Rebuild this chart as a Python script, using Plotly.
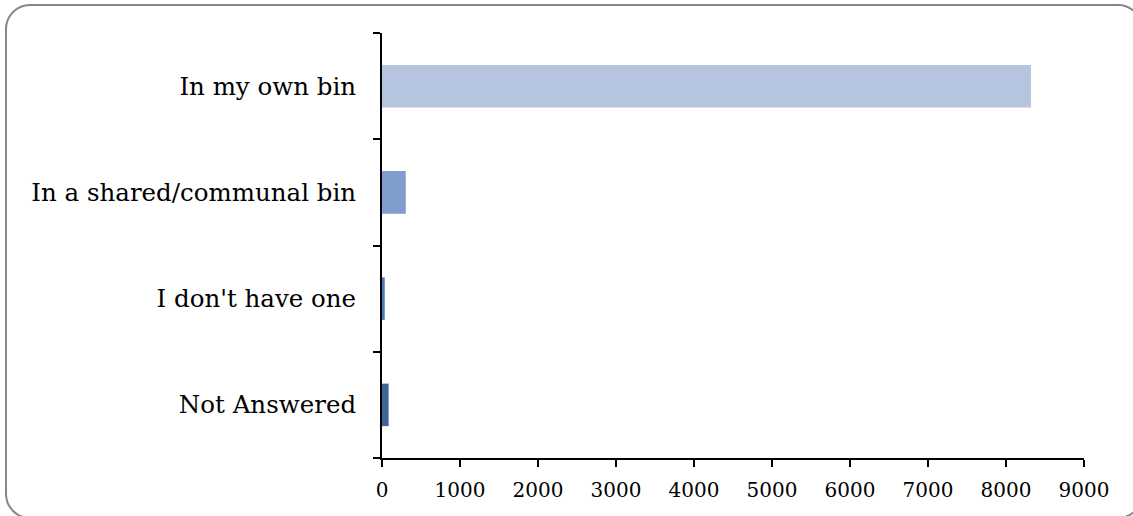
import plotly.graph_objects as go

categories = ["In my own bin", "In a shared/communal bin", "I don't have one", "Not Answered"]
values = [8320, 305, 35, 85]
colors = ["#b5c4df", "#7f9ecb", "#4a78b8", "#3b6497"]
x_ticks = [0, 1000, 2000, 3000, 4000, 5000, 6000, 7000, 8000, 9000]

W, H = 1133, 516
L, R, T, B = 382, 1084, 33, 458

fig = go.Figure(go.Bar(
    y=categories, x=values, orientation="h",
    marker=dict(color=colors, line=dict(width=0)),
    width=0.4,
))

def px(x):
    return (x - L) / (R - L)

def py(y):
    return (B - y) / (B - T)

# rounded border
x0, y0, x1, y1, r = 6, 5, 1142, 518, 24
k = 0.45
path = (
    f"M {px(x0 + r)} {py(y0)} L {px(x1 - r)} {py(y0)} "
    f"C {px(x1 - r + r*(1-k))} {py(y0)} {px(x1)} {py(y0 + r*k)} {px(x1)} {py(y0 + r)} "
    f"L {px(x1)} {py(y1 - r)} "
    f"C {px(x1)} {py(y1 - r*k)} {px(x1 - r*k)} {py(y1)} {px(x1 - r)} {py(y1)} "
    f"L {px(x0 + r)} {py(y1)} "
    f"C {px(x0 + r*k)} {py(y1)} {px(x0)} {py(y1 - r*k)} {px(x0)} {py(y1 - r)} "
    f"L {px(x0)} {py(y0 + r)} "
    f"C {px(x0)} {py(y0 + r*k)} {px(x0 + r*k)} {py(y0)} {px(x0 + r)} {py(y0)} Z"
)

fig.update_layout(
    width=W, height=H,
    margin=dict(l=L, r=W - R, t=T, b=H - B),
    paper_bgcolor="white", plot_bgcolor="white",
    showlegend=False,
    bargap=0.6,
    font=dict(family="DejaVu Serif", color="black"),
    shapes=[dict(type="path", xref="paper", yref="paper", path=path,
                 line=dict(color="#878787", width=2), fillcolor="rgba(0,0,0,0)", layer="below")],
    xaxis=dict(
        range=[0, 9000], tickvals=x_ticks, ticktext=[str(v) for v in x_ticks],
        showgrid=False, zeroline=False, showline=True, linecolor="black", linewidth=2,
        ticks="outside", ticklen=7, tickwidth=2, tickcolor="black",
        tickfont=dict(size=20, family="DejaVu Serif"), ticklabelstandoff=6,
    ),
    yaxis=dict(
        categoryorder="array", categoryarray=categories[::-1],
        showgrid=False, showline=True, linecolor="black", linewidth=2,
        ticks="outside", ticklen=7, tickwidth=2, tickcolor="black",
        tickson="boundaries",
        tickfont=dict(size=24.5, family="DejaVu Serif"), ticklabelstandoff=19,
    ),
)

fig.write_html("out.html", config={"displayModeBar": False},
               post_script="document.body.style.margin='0';document.body.style.overflow='hidden';")
